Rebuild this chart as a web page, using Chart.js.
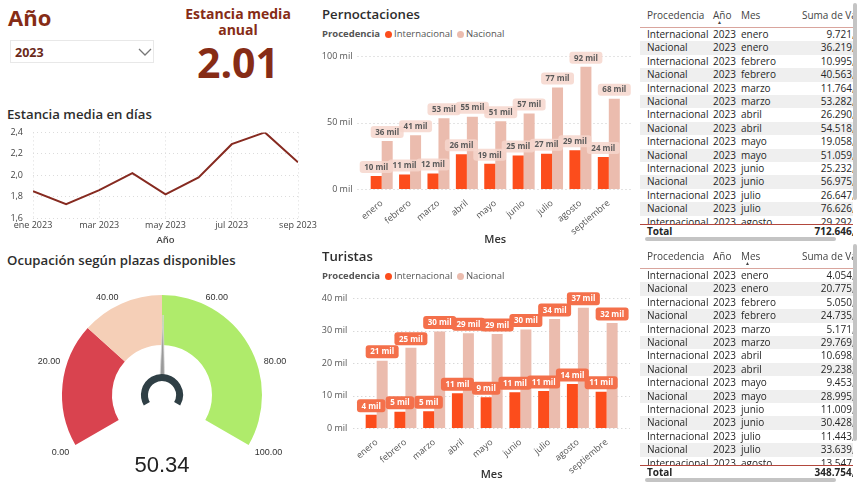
<!DOCTYPE html>
<html lang="es">
<head>
<meta charset="utf-8">
<script src="https://cdn.jsdelivr.net/npm/chart.js@4.4.1/dist/chart.umd.min.js"></script>
<style>
  html,body{margin:0;padding:0;background:#fff;}
  body{width:857px;height:483px;overflow:hidden;position:relative;font-family:"Open Sans",sans-serif;color:#333;}
  .abs{position:absolute;}
  .brand{color:#862c16;font-weight:700;}
  .title{font-weight:600;font-size:13.2px;color:#2d2d2d;white-space:nowrap;}
  .legend{font-size:9.5px;color:#555;white-space:nowrap;}
  .legend b{color:#555;font-weight:700;margin-right:3px;}
  .legend i{display:inline-block;width:7px;height:7px;border-radius:50%;margin:0 2px 0 2px;vertical-align:-0.5px;}
  .tbl{position:absolute;overflow:hidden;font-size:10px;color:#262626;font-weight:500;}
  .row{position:absolute;left:0;width:240px;height:13.4px;line-height:13.4px;white-space:nowrap;}
  .row span{position:absolute;top:0;}
  .row .v{text-align:right;}
  .hdr{color:#444;}
  .shade{background:#efefef;}
  .sb{position:absolute;background:#c4c4c4;border-radius:2px;}
</style>
</head>
<body>

<div class="abs brand" style="left:8px;top:2px;font-size:22px;">Año</div>
<div class="abs" style="left:10px;top:40px;width:144px;height:23px;border:1px solid #e8e8e8;box-sizing:border-box;">
  <span class="abs" style="left:4px;top:3px;font-size:12.5px;font-weight:700;color:#6b2a1a;">2023</span>
  <svg class="abs" style="left:127px;top:7px" width="14" height="9"><polyline points="1,1 7,7 13,1" fill="none" stroke="#777" stroke-width="1.3"/></svg>
</div>
<div class="abs brand" style="left:160px;top:6px;width:156px;text-align:center;font-size:14px;line-height:16px;">Estancia media<br>anual</div>
<div class="abs brand" id="annual" style="left:160px;top:36px;width:156px;text-align:center;font-size:41px;line-height:52px;"></div>

<div class="abs title" style="left:7px;top:105px;">Estancia media en días</div>
<div class="abs" style="left:0;top:117px;width:320px;height:129px;"><canvas id="stay"></canvas></div>

<div class="abs title" style="left:7px;top:251px;">Ocupación según plazas disponibles</div>
<div class="abs" style="left:0;top:270px;width:320px;height:213px;"><canvas id="gauge"></canvas></div>
<div class="abs" id="gaugeValue" style="left:100px;top:452px;width:124px;text-align:center;font-family:'Liberation Sans',Arial,sans-serif;font-size:22px;color:#222;"></div>

<div class="abs title" style="left:322px;top:5px;">Pernoctaciones</div>
<div class="abs legend" style="left:322px;top:27px;"><b>Procedencia</b><i style="background:#fc4d1c"></i>Internacional <i style="background:#ebbcae"></i>Nacional</div>
<div class="abs" style="left:320px;top:44px;width:320px;height:204px;"><canvas id="pern"></canvas></div>

<div class="abs title" style="left:322px;top:247px;">Turistas</div>
<div class="abs legend" style="left:322px;top:269px;"><b>Procedencia</b><i style="background:#fc4d1c"></i>Internacional <i style="background:#ebbcae"></i>Nacional</div>
<div class="abs" style="left:320px;top:286px;width:320px;height:197px;"><canvas id="tur"></canvas></div>

<div id="t1"></div>
<div id="t2"></div>

<script>
// ---- data ----
const months = ['enero','febrero','marzo','abril','mayo','junio','julio','agosto','septiembre'];
const origins = ['Internacional','Nacional'];
const year = 2023;

const nightsIntl = [9721, 10995, 11764, 26290, 19058, 25232, 26647, 29292, 24150];
const nightsNat  = [36219, 40563, 53282, 54518, 51059, 56975, 76626, 92150, 68105];
const nightsTotal = 712646;

const touristsIntl = [4054, 5050, 5171, 10698, 9453, 11009, 11443, 13547, 11200];
const touristsNat  = [20775, 24735, 29769, 29238, 28995, 30428, 33639, 37150, 32400];
const touristsTotal = 348754;

const stayLabels = ['ene 2023','feb 2023','mar 2023','abr 2023','may 2023','jun 2023','jul 2023','ago 2023','sep 2023'];
const stayValues = [1.85, 1.73, 1.86, 2.02, 1.82, 1.98, 2.29, 2.40, 2.12];
const annualStay = 2.01;

const gaugeBands = [30, 20, 50];
const gaugeTicks = [0, 20, 40, 60, 80, 100];
const occupancy = 50.34;

// ---- colours ----
const C_INTL = '#fc4d1c', C_NAT = '#ebbcae', C_LINE = '#862a20';

document.getElementById('annual').textContent = annualStay.toFixed(2);
document.getElementById('gaugeValue').textContent = occupancy.toFixed(2);

Chart.defaults.font.family = '"Open Sans", sans-serif';
Chart.defaults.animation = false;
Chart.defaults.responsive = true;
Chart.defaults.maintainAspectRatio = false;

// ---- line chart: estancia media ----
new Chart(document.getElementById('stay'), {
  type: 'line',
  data: { datasets: [{ data: stayValues.map((v, i) => ({x: i, y: v})), borderColor: C_LINE, borderWidth: 2, pointRadius: 0, tension: 0 }] },
  options: {
    plugins: { legend: {display: false}, tooltip: {enabled: false} },
    layout: { padding: {left: 0, right: 22, top: 4, bottom: 0} },
    scales: {
      x: {
        type: 'linear', min: 0, max: 8,
        afterBuildTicks: s => { s.ticks = [0, 2, 4, 6, 8].map(v => ({value: v})); },
        afterFit: s => { s.height = 28; },
        ticks: { callback: v => stayLabels[v], font: {size: 9}, color: '#444', padding: 2, maxRotation: 0 },
        grid: { color: '#dcdcdc', lineWidth: 1, drawTicks: false },
        border: { display: false, dash: [1, 3] },
        title: { display: true, text: 'Año', font: {size: 9.5, weight: '600'}, color: '#444', padding: 0 }
      },
      y: {
        min: 1.6, max: 2.4,
        afterFit: s => { s.width = 33; },
        ticks: { stepSize: 0.2, callback: v => v.toFixed(1).replace('.', ','), font: {size: 9}, color: '#444', padding: 10 },
        grid: { color: '#dcdcdc', drawTicks: false },
        border: { display: false, dash: [1, 3] }
      }
    }
  }
});

// ---- gauge ----
const gaugeDeco = {
  id: 'gaugeDeco',
  afterDatasetsDraw(chart) {
    const arc = chart.getDatasetMeta(0).data[0];
    const cx = arc.x, cy = arc.y, R = arc.outerRadius;
    const ctx = chart.ctx;
    const ang = v => (150 + 240 * v / 100) * Math.PI / 180;
    ctx.save();
    // tick labels, anchored on the side facing the arc
    ctx.font = '9px "Liberation Sans", Arial, sans-serif';
    ctx.fillStyle = '#333'; ctx.textBaseline = 'middle';
    gaugeTicks.forEach(t => {
      const a = ang(t);
      ctx.textAlign = t < 50 ? 'right' : (t > 50 ? 'left' : 'center');
      const lift = Math.sin(a) > 0.3 ? 4 : 0;
      ctx.fillText(t.toFixed(2), cx + Math.cos(a) * (R + 7), cy + Math.sin(a) * (R + 7) + lift);
    });
    // needle
    const a = ang(occupancy), px = Math.cos(a + Math.PI / 2), py = Math.sin(a + Math.PI / 2);
    const r0 = 18, r1 = 80;
    ctx.beginPath();
    ctx.moveTo(cx + Math.cos(a) * r0 + px * 2.2, cy + Math.sin(a) * r0 + py * 2.2);
    ctx.lineTo(cx + Math.cos(a) * r1, cy + Math.sin(a) * r1);
    ctx.lineTo(cx + Math.cos(a) * r0 - px * 2.2, cy + Math.sin(a) * r0 - py * 2.2);
    ctx.closePath();
    ctx.fillStyle = '#9a9a9a'; ctx.fill();
    ctx.strokeStyle = '#d8d8d8'; ctx.lineWidth = 0.8; ctx.stroke();
    // hub
    ctx.beginPath();
    ctx.arc(cx, cy, 17.5, 150 * Math.PI / 180, 390 * Math.PI / 180);
    ctx.strokeStyle = '#2f3f45'; ctx.lineWidth = 7; ctx.lineCap = 'butt'; ctx.stroke();
    ctx.restore();
  }
};
new Chart(document.getElementById('gauge'), {
  type: 'doughnut',
  data: { labels: ['bajo', 'medio', 'alto'], datasets: [{ data: gaugeBands, backgroundColor: ['#d9434f', '#f5cfb7', '#afeb6b'], borderWidth: 0 }] },
  options: {
    rotation: -120, circumference: 240, radius: 100, cutout: 50,
    layout: { padding: {left: 4, right: 0, top: 0, bottom: 13} },
    plugins: { legend: {display: false}, tooltip: {enabled: false} }
  },
  plugins: [gaugeDeco]
});

// ---- grouped bar charts ----
const kLabel = v => Math.round(v / 1000) + ' mil';

const dotGrid = {
  id: 'dotGrid',
  beforeDatasetsDraw(chart, args, o) {
    const {ctx, chartArea: ca} = chart, y = chart.scales.y;
    ctx.save();
    ctx.strokeStyle = '#c8c8c8'; ctx.lineWidth = 1; ctx.setLineDash([1, 3]);
    y.ticks.forEach(t => {
      const py = Math.round(y.getPixelForValue(t.value)) + 0.5;
      ctx.beginPath(); ctx.moveTo(ca.left - o.ext[0], py); ctx.lineTo(ca.right + o.ext[1], py); ctx.stroke();
    });
    ctx.restore();
  }
};

const valueTags = {
  id: 'valueTags',
  afterDatasetsDraw(chart, args, o) {
    const ctx = chart.ctx;
    ctx.save();
    ctx.font = '700 8px "Open Sans", sans-serif';
    ctx.textAlign = 'center'; ctx.textBaseline = 'middle';
    chart.data.datasets.forEach((ds, di) => {
      chart.getDatasetMeta(di).data.forEach((bar, i) => {
        const txt = kLabel(ds.data[i]);
        const w = ctx.measureText(txt).width + 9, h = o.h;
        const x = bar.x, y = bar.y - 9;
        ctx.fillStyle = o.bg;
        ctx.beginPath(); ctx.roundRect(x - w / 2, y - h / 2, w, h, 3); ctx.fill();
        ctx.fillStyle = o.fg; ctx.fillText(txt, x, y + 0.5);
      });
    });
    ctx.restore();
  }
};

function barChart(id, intl, nat, max, step, geom, tag) {
  return new Chart(document.getElementById(id), {
    type: 'bar',
    data: {
      labels: months,
      datasets: [
        { label: origins[0], data: intl, backgroundColor: C_INTL, categoryPercentage: geom.cat, barPercentage: 1 },
        { label: origins[1], data: nat, backgroundColor: C_NAT, categoryPercentage: geom.cat, barPercentage: 1 }
      ]
    },
    options: {
      layout: { padding: {left: 0, right: geom.right, top: geom.top, bottom: 0} },
      plugins: { legend: {display: false}, tooltip: {enabled: false}, dotGrid: {ext: geom.ext}, valueTags: tag },
      scales: {
        x: {
          afterFit: s => { s.height = geom.xh; },
          grid: {display: false}, border: {display: false},
          ticks: { font: {size: 9}, color: '#555', minRotation: 40, maxRotation: 40, padding: 1 },
          title: { display: true, text: 'Mes', font: {size: 11, weight: '600'}, color: '#333', padding: {top: 0, bottom: 2} }
        },
        y: {
          min: 0, max: max,
          afterFit: s => { s.width = geom.left; },
          afterBuildTicks: s => { const t = []; for (let v = 0; v <= max; v += step) t.push({value: v}); s.ticks = t; },
          grid: {display: false}, border: {display: false},
          ticks: { callback: v => kLabel(v), font: {size: 9}, color: '#555', padding: geom.pad }
        }
      }
    },
    plugins: [dotGrid, valueTags]
  });
}

barChart('pern', nightsIntl, nightsNat, 100000, 50000,
  {cat: 0.775, right: 17, top: 2, xh: 59, left: 47.5, pad: 7, ext: [10, 9]},
  {bg: 'rgba(246,214,204,0.85)', fg: '#5a5a5a', h: 12});
barChart('tur', touristsIntl, touristsNat, 40000, 10000,
  {cat: 0.765, right: 19, top: 5, xh: 55, left: 42.3, pad: 7, ext: [9, 9]},
  {bg: '#f4704b', fg: '#ffffff', h: 13});

// ---- tables ----
const fmt = v => {
  const s = String(Math.round(v)).replace(/\B(?=(\d{3})+(?!\d))/g, '.');
  return s + ',00';
};
function buildTable(host, top, intl, nat, total, sortCol) {
  const root = document.getElementById(host);
  const cols = {p: 7, a: 73, m: 101};
  const box = document.createElement('div');
  box.className = 'tbl'; box.style.cssText = `left:640px;top:${top}px;width:213px;height:245px;`;
  // header
  const hd = document.createElement('div');
  hd.className = 'row hdr'; hd.style.top = '9px';
  hd.innerHTML = `<span style="left:${cols.p}px">Procedencia</span><span style="left:${cols.a}px">Año</span>` +
    `<span style="left:${cols.m}px">Mes</span><span style="left:162px">Suma de Valor</span>`;
  box.appendChild(hd);
  const arrow = document.createElement('div');
  arrow.className = 'abs'; arrow.textContent = '▲';
  arrow.style.cssText = `left:${sortCol === 'a' ? cols.a + 4 : cols.m + 4}px;top:19px;font-size:5px;color:#444;`;
  box.appendChild(arrow);
  const line = document.createElement('div');
  line.className = 'abs'; line.style.cssText = 'left:0;top:27px;width:213px;height:1px;background:#d9a59d;';
  box.appendChild(line);
  // body
  const body = document.createElement('div');
  body.className = 'abs'; body.style.cssText = 'left:0;top:28px;width:213px;height:196px;overflow:hidden;';
  let r = 0;
  months.forEach((m, i) => {
    [[origins[0], intl[i]], [origins[1], nat[i]]].forEach(([o, v]) => {
      const row = document.createElement('div');
      row.className = 'row' + (o === 'Nacional' ? ' shade' : '');
      row.style.top = (r * 13.4) + 'px';
      row.innerHTML = `<span style="left:${cols.p}px">${o}</span><span style="left:${cols.a}px">${year}</span>` +
        `<span style="left:${cols.m}px">${m}</span><span class="v" style="right:14px">${fmt(v)}</span>`;
      body.appendChild(row);
      r++;
    });
  });
  box.appendChild(body);
  const tl = document.createElement('div');
  tl.className = 'abs'; tl.style.cssText = 'left:0;top:224px;width:213px;height:1px;background:#b2473d;';
  box.appendChild(tl);
  const tr = document.createElement('div');
  tr.className = 'row'; tr.style.cssText = 'top:225px;font-weight:700;';
  tr.innerHTML = `<span style="left:${cols.p}px">Total</span><span class="v" style="right:14px">${fmt(total)}</span>`;
  box.appendChild(tr);
  const hs = document.createElement('div');
  hs.className = 'sb'; hs.style.cssText = 'left:5px;top:237px;width:191px;height:4px;';
  box.appendChild(hs);
  root.appendChild(box);
  const vs = document.createElement('div');
  vs.className = 'sb'; vs.style.cssText = `left:853px;top:${top + 3}px;width:4px;height:197px;`;
  root.appendChild(vs);
}
buildTable('t1', 0, nightsIntl, nightsNat, nightsTotal, 'a');
buildTable('t2', 241, touristsIntl, touristsNat, touristsTotal, 'm');
</script>
</body>
</html>
